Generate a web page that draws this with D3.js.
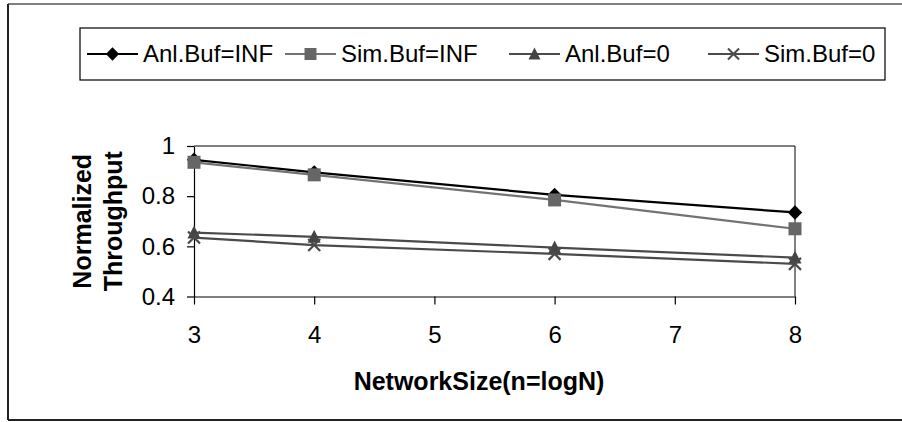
<!DOCTYPE html>
<html>
<head>
<meta charset="utf-8">
<script src="https://cdn.jsdelivr.net/npm/d3@7"></script>
<style>
  html, body { margin: 0; padding: 0; background: #fff; }
  svg { display: block; }
  text { font-family: "Liberation Sans", Arial, sans-serif; fill: #000; }
</style>
</head>
<body>
<svg id="chart" width="902" height="422"></svg>
<script>
// Network size n = log N
const networkSize = [3, 4, 6, 8];
// Normalized throughput per series
const anlBufInf = [0.945, 0.895, 0.805, 0.735];
const simBufInf = [0.935, 0.885, 0.785, 0.67];
const anlBuf0   = [0.655, 0.638, 0.595, 0.555];
const simBuf0   = [0.635, 0.605, 0.57, 0.53];

const seriesNames = ["Anl.Buf=INF", "Sim.Buf=INF", "Anl.Buf=0", "Sim.Buf=0"];
const xTicks = [3, 4, 5, 6, 7, 8];
const yTicks = [0.4, 0.6, 0.8, 1];

const svg = d3.select("#chart");

// outer chart frame
svg.append("line").attr("x1", 8).attr("x2", 910).attr("y1", 4).attr("y2", 4)
  .attr("stroke", "#808080").attr("stroke-width", 2);
svg.append("line").attr("x1", 8).attr("x2", 8).attr("y1", 4).attr("y2", 420)
  .attr("stroke", "#222").attr("stroke-width", 2);
svg.append("line").attr("x1", 8).attr("x2", 910).attr("y1", 420).attr("y2", 420)
  .attr("stroke", "#222").attr("stroke-width", 2);

const plot = { left: 194, right: 795, top: 146, bottom: 296.5 };
const x = d3.scaleLinear().domain([3, 8]).range([plot.left, plot.right]);
const y = d3.scaleLinear().domain([0.4, 1]).range([plot.bottom, plot.top]);

// plot area border (top and right)
svg.append("path")
  .attr("d", `M${plot.left},${plot.top}H${plot.right}V${plot.bottom}`)
  .attr("fill", "none").attr("stroke", "#000").attr("stroke-width", 1);

// axes
const xAxis = svg.append("g").attr("transform", `translate(0,${plot.bottom})`)
  .call(d3.axisBottom(x).tickValues(xTicks).tickFormat(d3.format("d"))
    .tickSizeInner(8).tickSizeOuter(0).tickPadding(21));
const yAxis = svg.append("g").attr("transform", `translate(${plot.left},0)`)
  .call(d3.axisLeft(y).tickValues(yTicks).tickFormat(d => d === 1 ? "1" : d3.format(".1f")(d))
    .tickSizeInner(7).tickSizeOuter(0).tickPadding(12));
[xAxis, yAxis].forEach(g => {
  g.select(".domain").attr("stroke", "#000").attr("stroke-width", 1.2);
  g.selectAll(".tick line").attr("stroke", "#000").attr("stroke-width", 1.2);
  g.selectAll(".tick text").attr("font-size", 24)
    .attr("font-family", "'Liberation Sans', Arial, sans-serif").attr("fill", "#000");
});

// axis titles
svg.append("text").attr("x", 479).attr("y", 390).attr("text-anchor", "middle")
  .attr("font-size", 25).attr("font-weight", "bold").text("NetworkSize(n=logN)");
const yTitle = svg.append("g").attr("transform", `translate(0,${(plot.top + plot.bottom) / 2}) rotate(-90)`);
yTitle.append("text").attr("x", 0).attr("y", 91).attr("text-anchor", "middle")
  .attr("font-size", 25).attr("font-weight", "bold").text("Normalized");
yTitle.append("text").attr("x", 0).attr("y", 122).attr("text-anchor", "middle")
  .attr("font-size", 25).attr("font-weight", "bold").text("Throughput");

// marker shapes
const diamond = { draw(ctx, size) { const r = Math.sqrt(size) / 2 * 1.2;
  ctx.moveTo(0, -r); ctx.lineTo(r, 0); ctx.lineTo(0, r); ctx.lineTo(-r, 0); ctx.closePath(); } };
const square = { draw(ctx, size) { const r = Math.sqrt(size) / 2;
  ctx.rect(-r, -r, 2 * r, 2 * r); } };
const triangle = { draw(ctx, size) { const r = Math.sqrt(size) / 2;
  ctx.moveTo(0, -r * 1.1); ctx.lineTo(r, r * 0.9); ctx.lineTo(-r, r * 0.9); ctx.closePath(); } };
const cross = { draw(ctx, size) { const r = Math.sqrt(size) / 2;
  ctx.moveTo(-r, -r); ctx.lineTo(r, r); ctx.moveTo(r, -r); ctx.lineTo(-r, r); } };

const series = [
  { name: seriesNames[0], values: anlBufInf, line: "#000", fill: "#000", shape: diamond, size: 144, hollow: false },
  { name: seriesNames[1], values: simBufInf, line: "#737373", fill: "#666", shape: square, size: 169, hollow: false },
  { name: seriesNames[2], values: anlBuf0, line: "#4a4a4a", fill: "#444", shape: triangle, size: 169, hollow: false },
  { name: seriesNames[3], values: simBuf0, line: "#4a4a4a", fill: "none", shape: cross, size: 144, hollow: true },
];

const lineGen = d3.line().x(d => x(d[0])).y(d => y(d[1]));

series.forEach(s => {
  const pts = networkSize.map((n, i) => [n, s.values[i]]);
  svg.append("path").attr("d", lineGen(pts)).attr("fill", "none")
    .attr("stroke", s.line).attr("stroke-width", 2.2);
  svg.append("g").selectAll("path").data(pts).join("path")
    .attr("transform", d => `translate(${x(d[0])},${y(d[1])})`)
    .attr("d", d3.symbol(s.shape, s.size)())
    .attr("fill", s.hollow ? "none" : s.fill)
    .attr("stroke", s.hollow ? s.line : "none")
    .attr("stroke-width", s.hollow ? 2.2 : 0);
});

// legend
const legend = svg.append("g");
legend.append("rect").attr("x", 80).attr("y", 28).attr("width", 805).attr("height", 52)
  .attr("fill", "#fff").attr("stroke", "#000").attr("stroke-width", 1.2);
const legendStarts = [87, 285, 509, 708];
series.forEach((s, i) => {
  const g = legend.append("g").attr("transform", `translate(${legendStarts[i]},54)`);
  g.append("line").attr("x1", 0).attr("x2", 51).attr("y1", 0).attr("y2", 0)
    .attr("stroke", s.line).attr("stroke-width", 2.2);
  g.append("path").attr("transform", "translate(25.5,0)")
    .attr("d", d3.symbol(s.shape, s.size * 0.85)())
    .attr("fill", s.hollow ? "none" : s.fill)
    .attr("stroke", s.hollow ? s.line : "none").attr("stroke-width", s.hollow ? 2 : 0);
  g.append("text").attr("x", 56).attr("y", 0).attr("dy", "0.35em")
    .attr("font-size", 24).text(s.name);
});
</script>
</body>
</html>
